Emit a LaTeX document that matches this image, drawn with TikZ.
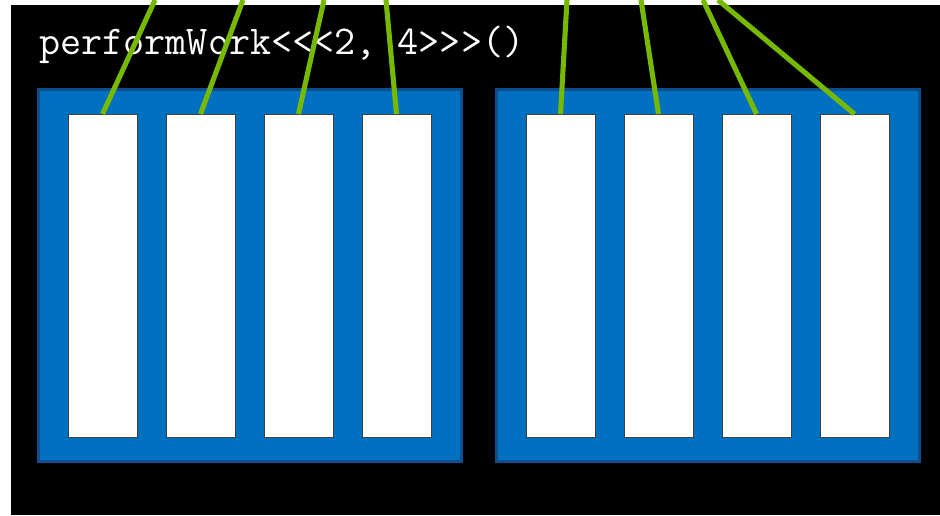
\documentclass[tikz,border=0pt]{standalone}
\usepackage{fontspec}
\definecolor{nvgreen}{RGB}{118,185,0}
\definecolor{blockblue}{RGB}{0,112,192}
\definecolor{blockedge}{RGB}{14,78,138}
\tikzset{
  blk/.style  = {draw=blockedge, fill=blockblue, line width=1.7pt,
                 minimum width=8.46cm, minimum height=7.44cm,
                 inner sep=0pt, outer sep=0pt},
  lane/.style = {draw=black!75, fill=white, line width=0.4pt,
                 minimum width=1.38cm, minimum height=6.46cm,
                 inner sep=0pt, outer sep=0pt},
  thr/.style  = {nvgreen, line width=2.9pt}
}

\begin{document}
\begin{tikzpicture}[
  x=0.02cm, y=-0.02cm,
  call/.style={text=white, inner sep=0pt,
               font=\fontsize{23.3}{27}\selectfont\ttfamily}
]
\useasboundingbox (0,0) rectangle (940,515);
\fill[white] (0,0) rectangle (940,515);
\fill[black] (11,5) rectangle (940,515);

\node[call, anchor=base west] (launch) at (39,54) {performWork<<<2, 4>>>()};

% block 0
\node[blk] (b0) at (250,275.5) {};
\node[lane] (c1) at (102.5,275.5) {};
\node[lane] (c2) at (200.5,275.5) {};
\node[lane] (c3) at (298.5,275.5) {};
\node[lane] (c4) at (396.5,275.5) {};

% block 1
\node[blk] (b1) at (708,275.5) {};
\node[lane] (c5) at (560.5,275.5) {};
\node[lane] (c6) at (658.5,275.5) {};
\node[lane] (c7) at (756.5,275.5) {};
\node[lane] (c8) at (854.5,275.5) {};

\coordinate (t1) at (155,0);
\coordinate (t2) at (243,0);
\coordinate (t3) at (324,0);
\coordinate (t4) at (386,0);
\coordinate (t5) at (567,0);
\coordinate (t6) at (641,0);
\coordinate (t7) at (703,0);
\coordinate (t8) at (718,0);

\draw[thr] (t1) -- (c1.north);
\draw[thr] (t2) -- (c2.north);
\draw[thr] (t3) -- (c3.north);
\draw[thr] (t4) -- (c4.north);
\draw[thr] (t5) -- (c5.north);
\draw[thr] (t6) -- (c6.north);
\draw[thr] (t7) -- (c7.north);
\draw[thr] (t8) -- (c8.north);

\end{tikzpicture}
\end{document}
